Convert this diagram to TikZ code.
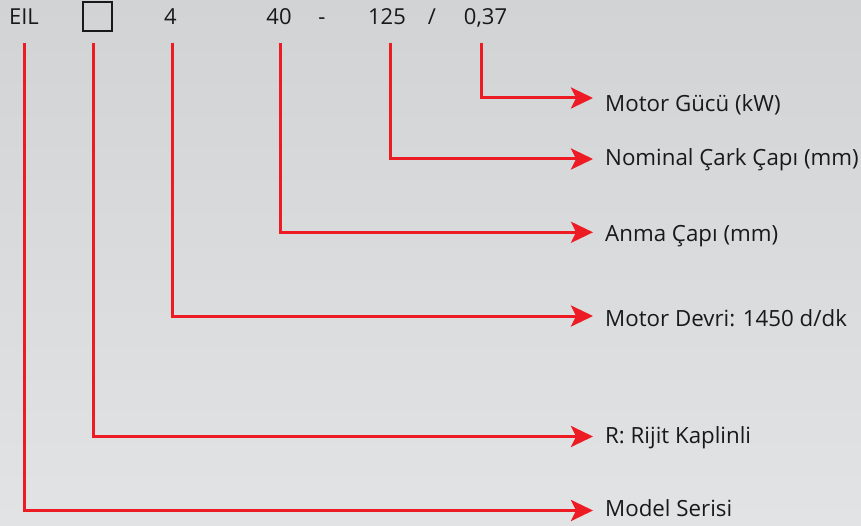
\documentclass[tikz,border=0pt]{standalone}
\usepackage{fontspec}
\setmainfont{Open Sans}
\usetikzlibrary{arrows.meta}
\definecolor{bgtop}{RGB}{210,211,213}
\definecolor{bgbot}{RGB}{226,227,228}
\definecolor{lred}{RGB}{237,28,36}
\definecolor{ink}{RGB}{25,25,25}
\begin{document}
\begin{tikzpicture}[x=1pt,y=-1pt,
  code/.style={anchor=base,font=\fontsize{22}{22}\selectfont,text=ink,inner sep=0pt},
  desc/.style={anchor=base west,font=\fontsize{22.3}{22}\selectfont,text=ink,inner sep=0pt},
  conn/.style={draw=lred,line width=3pt,line join=miter,
    -{Stealth[length=22pt,width=21pt,inset=5pt]}},
  slot/.style={draw=ink,line width=2pt,minimum size=29pt,inner sep=0pt}]
\shade[top color=bgtop,bottom color=bgbot] (0,0) rectangle (861,526);
\useasboundingbox (0,0) rectangle (861,526);
% top codes
\node[code] (eil) at (24,25) {EIL};
\node[slot] (box) at (97.5,16.5) {};
\node[code] (four) at (170.5,25) {4};
\node[code] (forty) at (279,25) {40};
\node[code] (dash) at (322,25) {-};
\node[code] (d125) at (387,25) {125};
\node[code] (slash) at (432,25) {/};
\node[code] (pow) at (485.5,25) {0,37};
% start points
\coordinate (s1) at (24,43);
\coordinate (s2) at (93.3,43);
\coordinate (s3) at (172,43);
\coordinate (s4) at (280,43);
\coordinate (s5) at (390,43);
\coordinate (s6) at (481,43);
% descriptions
\node[desc] (l6) at (605,111.7) {Motor Gücü (kW)};
\node[desc] (l5) at (605,166) {Nominal Çark Çapı (mm)};
\node[desc] (l4) at (605,241.7) {Anma Çapı (mm)};
\node[desc] (l3) at (605,326) {Motor Devri: 1450 d/dk};
\node[desc] (l2) at (605,443.3) {R: Rijit Kaplinli};
\node[desc] (l1) at (605,516.7) {Model Serisi};
% end points (arrow tips)
\coordinate (e6) at (593,98);
\coordinate (e5) at (593,159);
\coordinate (e4) at (593,232.3);
\coordinate (e3) at (593,316);
\coordinate (e2) at (593,436.5);
\coordinate (e1) at (593,510.5);
\draw[conn] (s6) |- (e6);
\draw[conn] (s5) |- (e5);
\draw[conn] (s4) |- (e4);
\draw[conn] (s3) |- (e3);
\draw[conn] (s2) |- (e2);
\draw[conn] (s1) |- (e1);
\end{tikzpicture}
\end{document}
